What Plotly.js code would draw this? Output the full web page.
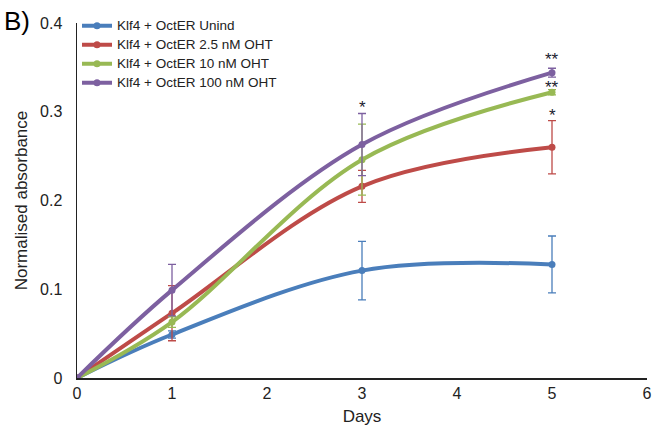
<!DOCTYPE html>
<html><head><meta charset="utf-8">
<script src="https://cdn.plot.ly/plotly-3.0.1.min.js"></script>
<style>html,body{margin:0;padding:0;background:#fff}#chart{width:659px;height:439px}</style>
</head><body><div id="chart"></div>
<script>
const days = [0, 1, 3, 5];
const seriesNames = ["Klf4 + OctER Unind", "Klf4 + OctER 2.5 nM OHT", "Klf4 + OctER 10 nM OHT", "Klf4 + OctER 100 nM OHT"];
const unind = [0, 0.049, 0.121, 0.128];
const unindErr = [0, 0.004, 0.033, 0.032];
const oht25 = [0, 0.073, 0.216, 0.260];
const oht25Err = [0, 0.031, 0.018, 0.030];
const oht10 = [0, 0.063, 0.246, 0.322];
const oht10Err = [0, 0.006, 0.040, 0.003];
const oht100 = [0, 0.099, 0.263, 0.344];
const oht100Err = [0, 0.029, 0.035, 0.005];
const colors = ["#4A7EBB", "#BE4B48", "#98B954", "#7D60A0"];
const starLabels = ["*", "**", "**", "*"];
const starX = [3, 5, 5, 5];
const starY = [0.305, 0.359, 0.327, 0.296];

const ys = [unind, oht25, oht10, oht100];
const errs = [unindErr, oht25Err, oht10Err, oht100Err];
const traces = ys.map((y, i) => ({
  x: days, y: y, name: '<span style="font-size:13.5px">' + seriesNames[i] + '</span>',
  type: 'scatter', mode: 'lines+markers',
  line: {color: colors[i], width: 4, shape: 'spline', smoothing: 1},
  marker: {color: colors[i], size: 7},
  error_y: {type: 'data', array: errs[i], visible: true, color: colors[i], thickness: 1.3, width: 4}
}));

const FONT = 'Liberation Sans, Arial, sans-serif';
const annotations = starLabels.map((s, i) => ({
  x: starX[i], y: starY[i], text: s, showarrow: false, yanchor: 'middle',
  font: {family: FONT, size: 17, color: '#1a2030'}
}));
annotations.push({xref: 'paper', yref: 'paper', x: -0.131, y: 1.053, xanchor: 'left', yanchor: 'top',
  text: 'B)', showarrow: false, font: {family: FONT, size: 26, color: '#000'}});

const layout = {
  width: 659, height: 439,
  margin: {l: 77, r: 12, t: 22, b: 61},
  paper_bgcolor: '#fff', plot_bgcolor: '#fff',
  font: {family: FONT, size: 16, color: '#222'},
  showlegend: true,
  legend: {x: 0.0, y: 1.03, xanchor: 'left', yanchor: 'top', bgcolor: 'rgba(0,0,0,0)',
    font: {size: 11.5, color: '#222'}, tracegroupgap: 0, itemwidth: 30},
  xaxis: {range: [0, 6], dtick: 1, showgrid: false, zeroline: false, showline: true,
    linecolor: '#222', linewidth: 1.5, ticks: '', tickfont: {size: 16}, ticklabelstandoff: 0,
    title: {text: 'Days', font: {size: 17}, standoff: 9}},
  yaxis: {range: [0, 0.4], dtick: 0.1, showgrid: false, zeroline: false, showline: true,
    linecolor: '#222', linewidth: 1.5, ticks: '', tickfont: {size: 16}, ticklabelstandoff: 10,
    title: {text: 'Normalised absorbance', font: {size: 17}, standoff: 8}},
  annotations: annotations
};
Plotly.newPlot('chart', traces, layout, {displayModeBar: false, staticPlot: true});
</script></body></html>
